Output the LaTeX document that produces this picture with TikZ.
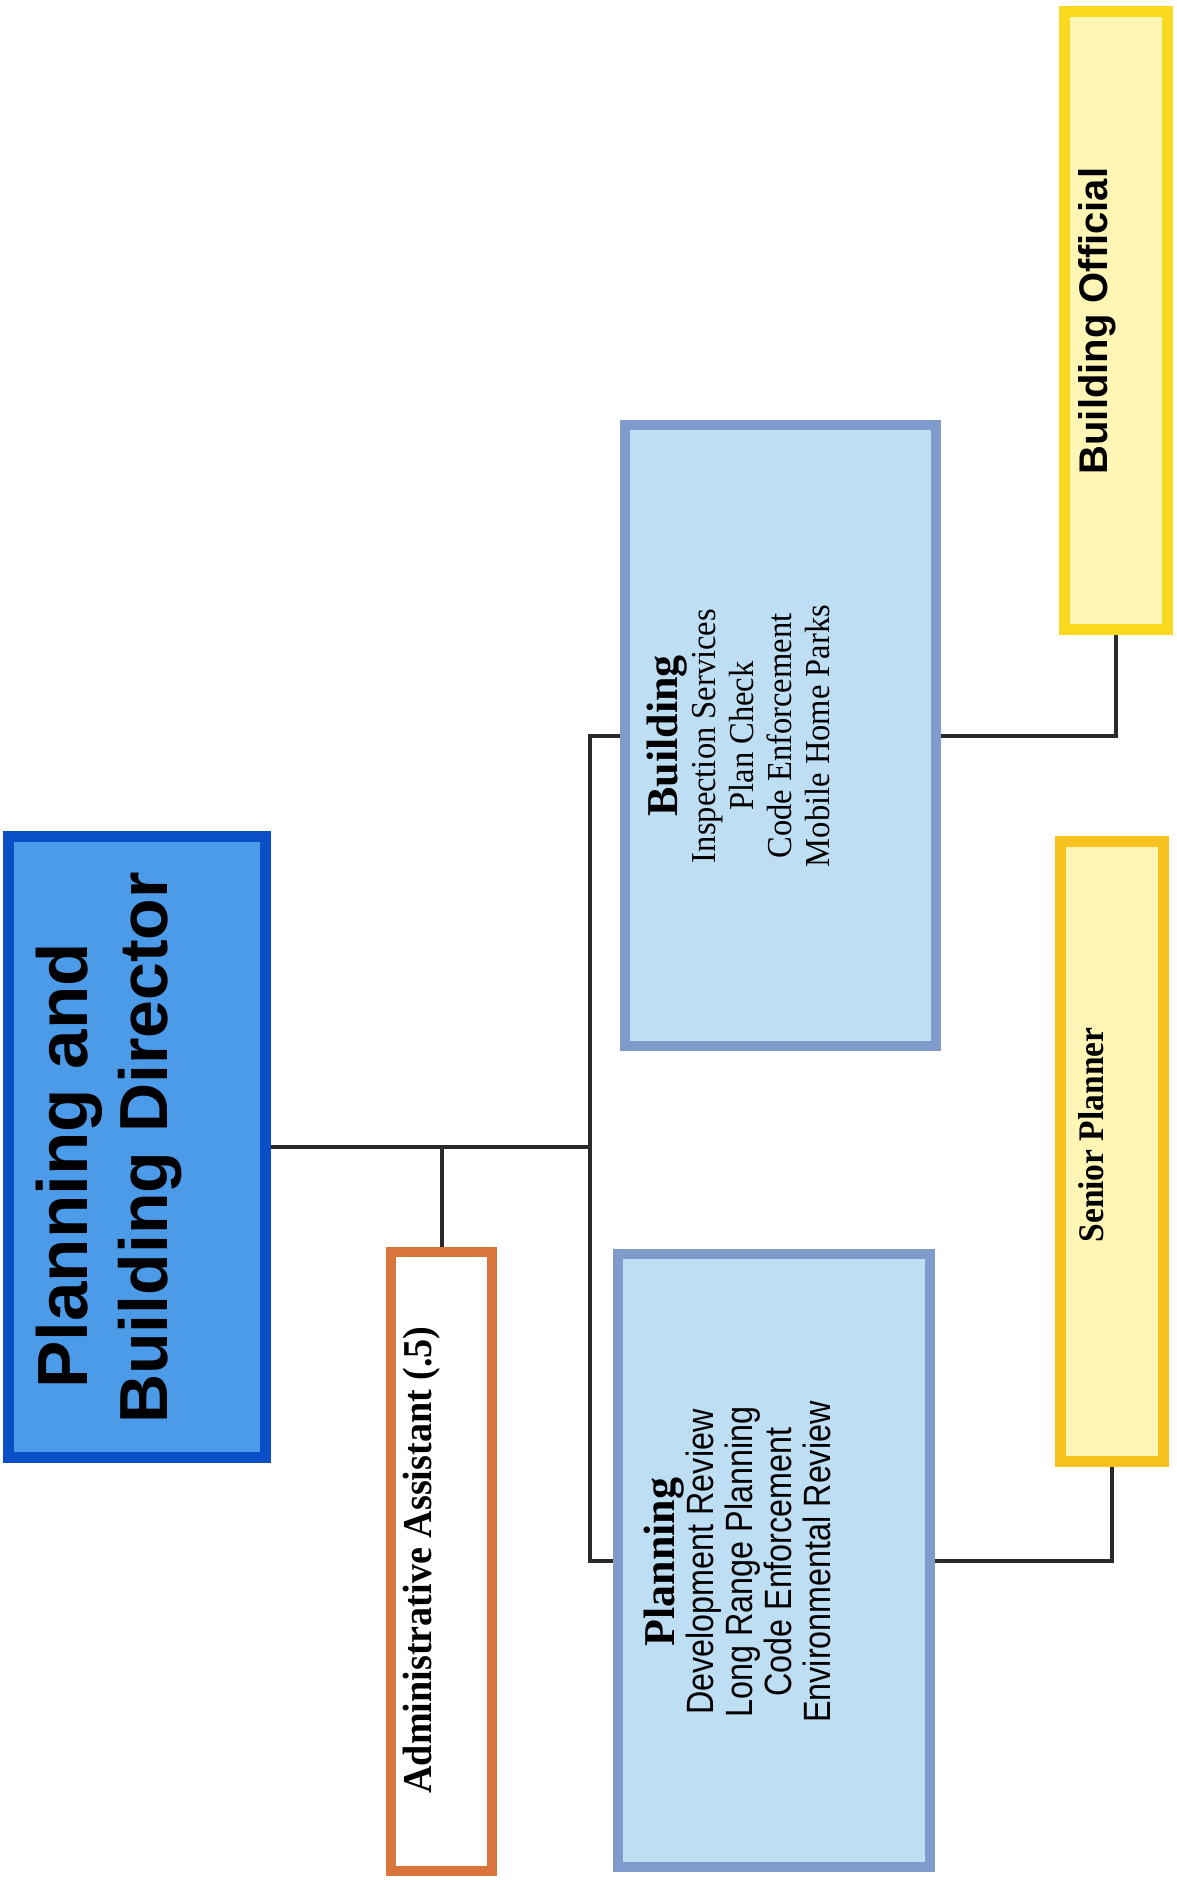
\documentclass[tikz,border=0pt]{standalone}
\usepackage{fontspec}
\setmainfont{Liberation Serif}
\newfontfamily\sansbold{Liberation Sans}
\newfontfamily\condsans[FakeStretch=0.85]{Liberation Sans}
\newfontfamily\condserif[FakeStretch=0.93]{Liberation Serif}
\definecolor{dirfill}{HTML}{4C9BE9}
\definecolor{dirborder}{HTML}{0B4FC6}
\definecolor{adminborder}{HTML}{D8743C}
\definecolor{divfill}{HTML}{BEDEF4}
\definecolor{divborder}{HTML}{7E9BCB}
\definecolor{yfill}{HTML}{FFF6B6}
\definecolor{sborder}{HTML}{F8C21E}
\definecolor{oborder}{HTML}{FAD81E}
\definecolor{connc}{HTML}{2A2A2A}
\begin{document}
\begin{tikzpicture}[x=1pt,y=-1pt,
  box/.style={draw, rectangle, inner sep=0pt},
  dirbox/.style={box, fill=dirfill, draw=dirborder, line width=11pt},
  adminbox/.style={box, fill=white, draw=adminborder, line width=10pt},
  divbox/.style={box, fill=divfill, draw=divborder, line width=10pt},
  sbox/.style={box, fill=yfill, draw=sborder, line width=11pt},
  obox/.style={box, fill=yfill, draw=oborder, line width=11pt},
  rtext/.style={rotate=90, align=center, inner sep=0pt, text=black},
  conn/.style={draw=connc, line width=4pt}]
\useasboundingbox[fill=white] (0,0) rectangle (1176,1880);
% boxes (outer edges)
\node[dirbox, minimum width=257pt, minimum height=621pt] (dir) at (137,1147) {};
\node[adminbox, minimum width=101pt, minimum height=619pt] (admin) at (441.5,1561.5) {};
\node[divbox, minimum width=312pt, minimum height=613pt] (plan) at (774,1560.5) {};
\node[divbox, minimum width=311pt, minimum height=621pt] (bldg) at (780.5,735.5) {};
\node[sbox, minimum width=103pt, minimum height=620pt] (senior) at (1112,1151) {};
\node[obox, minimum width=103pt, minimum height=618pt] (official) at (1116,320.5) {};
% connectors
\coordinate (trunk) at (590,1147);
\draw[conn] (dir.east) -- (trunk);
\draw[conn] (admin.north |- trunk) -- (admin.north);
\draw[conn] (bldg.west) -| (trunk) |- (plan.west);
\draw[conn] (bldg.east) -| (official.south);
\draw[conn] (plan.east) -| (senior.south);
% texts
\node[rtext, font=\sansbold\bfseries\fontsize{68}{80}\selectfont] (dirt) at (109,1148) {{\fontsize{71}{80}\selectfont Planning and}\hspace*{36pt}\\Building Director};
\node[rtext, font=\condserif\bfseries\fontsize{41}{48}\selectfont] (admint) at (422,1560) {Administrative Assistant (.5)};
\node[rtext, font=\condsans\fontsize{38}{39}\selectfont] (plant) at (737,1562) {{\rmfamily\bfseries\fontsize{44}{39}\selectfont Planning}\\Development Review\\Long Range Planning\\Code Enforcement\\Environmental Review};
\node[rtext, font=\condserif\fontsize{35}{38}\selectfont] (bldgt) at (738,736) {{\rmfamily\bfseries\fontsize{44}{38}\selectfont Building}\\Inspection Services\\Plan Check\\Code Enforcement\\Mobile Home Parks};
\node[rtext, font=\condserif\bfseries\fontsize{36}{40}\selectfont] (seniort) at (1091,1135) {Senior Planner};
\node[rtext, font=\sansbold\bfseries\fontsize{40}{44}\selectfont] (officialt) at (1097,321) {Building Official};
\end{tikzpicture}
\end{document}
